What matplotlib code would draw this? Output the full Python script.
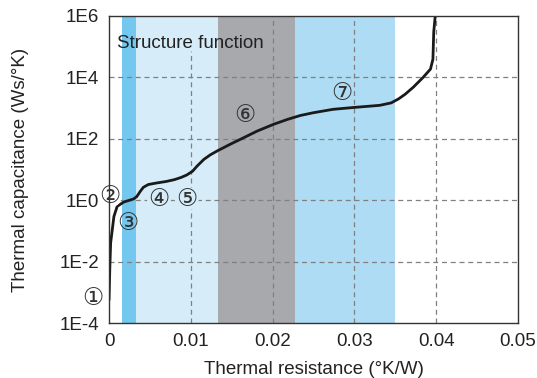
import matplotlib
matplotlib.use("Agg")
import matplotlib.pyplot as plt
import numpy as np

plt.rcParams['font.family'] = ['Liberation Sans', 'DejaVu Sans']

# Structure function curve (thermal resistance K/W, log10 of thermal capacitance Ws/K)
rth = [0.0000, 0.0001, 0.0002, 0.0004, 0.0006, 0.0010, 0.0018, 0.0030, 0.0034,
       0.0038, 0.0042, 0.0048, 0.0058, 0.0070, 0.0080, 0.0088, 0.0095, 0.0102,
       0.0108, 0.0116, 0.0124, 0.0132, 0.0148, 0.0165,
       0.0181, 0.0201, 0.0218, 0.0234, 0.0250, 0.0274, 0.0299, 0.0331, 0.0345,
       0.0354, 0.0362, 0.0372, 0.0384, 0.0393, 0.0396, 0.0397, 0.0399]
log_cth = [-3.25, -2.2, -1.39, -0.96, -0.53, -0.2, -0.06, 0.04, 0.12,
           0.28, 0.42, 0.51, 0.56, 0.61, 0.67, 0.74, 0.82, 0.94,
           1.12, 1.33, 1.48, 1.60, 1.82, 2.04,
           2.25, 2.47, 2.63, 2.76, 2.85, 2.96, 3.02, 3.09, 3.17,
           3.30, 3.45, 3.68, 4.00, 4.27, 4.59, 5.48, 6.05]

# Shaded regions (start, end, colour)
band_start = [0.0016, 0.0033, 0.01335, 0.02275]
band_end = [0.0033, 0.01335, 0.02275, 0.0350]
band_colors = ['#74C8EF', '#D6EDF9', '#A7A9AC', '#AEDCF4']

# Circled region labels (x, log10 y)
label_text = ['①', '②', '③', '④', '⑤', '⑥', '⑦']
label_x = [-0.0020, 0.0001, 0.0023, 0.0061, 0.0095, 0.0166, 0.0285]
label_logy = [-3.2, 0.15, -0.75, 0.05, 0.05, 2.76, 3.5]

xticks = [0, 0.01, 0.02, 0.03, 0.04, 0.05]
xtick_labels = ['0', '0.01', '0.02', '0.03', '0.04', '0.05']
yticks = [1e-4, 1e-2, 1e0, 1e2, 1e4, 1e6]
ytick_labels = ['1E-4', '1E-2', '1E0', '1E2', '1E4', '1E6']

fig = plt.figure(figsize=(5.37, 3.78), dpi=100)
ax = fig.add_axes([0.203, 0.1455, 0.7616, 0.8122])

for s, e, c in zip(band_start, band_end, band_colors):
    ax.axvspan(s, e, color=c, lw=0, zorder=0)

ax.set_xlim(0, 0.05)
ax.set_yscale('log')
ax.set_ylim(1e-4, 1e6)

grid_kw = dict(color='#808080', lw=0.9, ls=(0, (4, 3)), zorder=1)
for yv in [1e-2, 1e0, 1e2, 1e4]:
    ax.axhline(yv, **grid_kw)
for xv in [0.01, 0.02, 0.03, 0.04]:
    top = 10 ** 4.85 if xv == 0.01 else 1e6
    ax.plot([xv, xv], [1e-4, top], **grid_kw)

ax.plot(rth, 10 ** np.array(log_cth), color='#1a1a1a', lw=2.0, zorder=3,
        solid_capstyle='round', solid_joinstyle='round')

bg_for = ['white', 'white', None, '#D6EDF9', '#D6EDF9', None, None]
for t, x, ly, bg in zip(label_text, label_x, label_logy, bg_for):
    kw = {}
    if bg is not None:
        kw['bbox'] = dict(boxstyle='circle,pad=0.0', fc=bg, ec='none')
    ax.text(x, 10 ** ly, t, ha='center', va='center', fontsize=17,
            family=['DejaVu Sans'], color='#333333', zorder=4, clip_on=False, **kw)

ax.text(0.0010, 10 ** 5.1, 'Structure function', fontsize=13.5, color='#222222',
        ha='left', va='center', zorder=4)

ax.set_xticks(xticks)
ax.set_xticklabels(xtick_labels)
ax.set_yticks(yticks)
ax.set_yticklabels(ytick_labels)
ax.yaxis.set_minor_locator(matplotlib.ticker.NullLocator())
ax.tick_params(length=0, labelsize=13.5, colors='#222222', pad=7)

ax.set_xlabel('Thermal resistance (°K/W)', fontsize=13.5, color='#222222', labelpad=8)
ax.set_ylabel('Thermal capacitance (Ws/°K)', fontsize=13.5, color='#222222', labelpad=22)

for sp in ax.spines.values():
    sp.set_linewidth(1.0)
    sp.set_color('#333333')
    sp.set_zorder(5)

fig.savefig('out.png', dpi=100)
